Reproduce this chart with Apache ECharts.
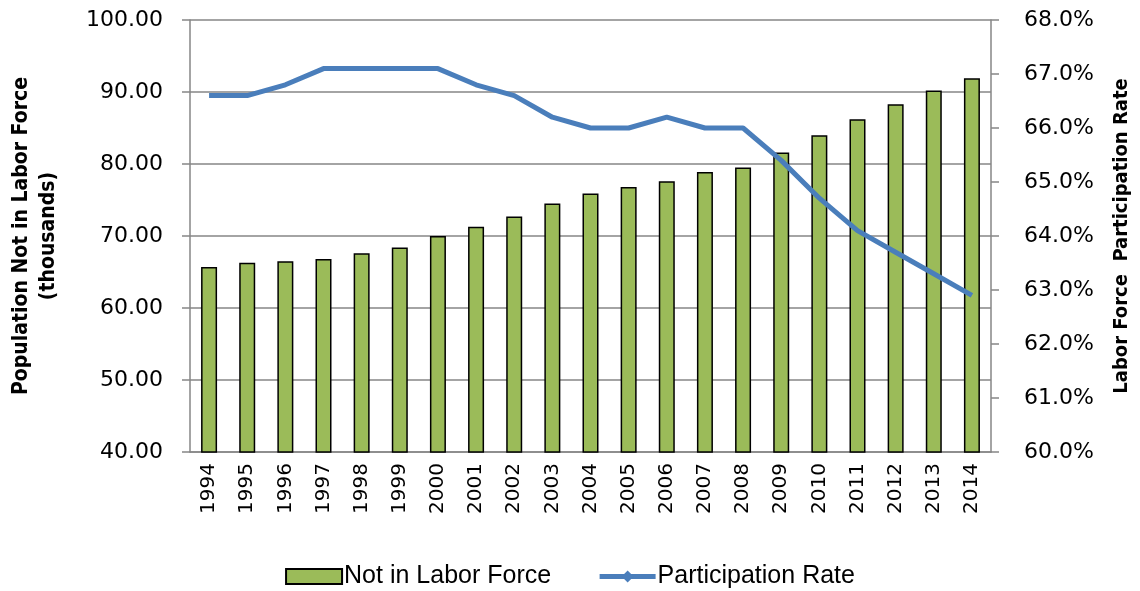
<!DOCTYPE html>
<html>
<head>
<meta charset="utf-8">
<script src="https://cdn.jsdelivr.net/npm/echarts@6/dist/echarts.min.js"></script>
<style>
  html, body { margin: 0; padding: 0; background: #fff; }
  #main { width: 1140px; height: 591px; }
</style>
</head>
<body>
<div id="main"></div>
<script>
// 年份
var years = ['1994','1995','1996','1997','1998','1999','2000','2001','2002','2003','2004',
             '2005','2006','2007','2008','2009','2010','2011','2012','2013','2014'];
// Not in Labor Force
var notInLabor = [65.7, 66.3, 66.5, 66.8, 67.6, 68.4, 70.0, 71.3, 72.7, 74.5, 75.9,
                  76.8, 77.6, 78.9, 79.5, 81.6, 84.0, 86.2, 88.3, 90.2, 91.9];
// Participation Rate (%)
var partRate = [66.6, 66.6, 66.8, 67.1, 67.1, 67.1, 67.1, 66.8, 66.6, 66.2, 66.0,
                66.0, 66.2, 66.0, 66.0, 65.4, 64.7, 64.1, 63.7, 63.3, 62.9];

var gray = '#868686';
var blue = '#4A7EBB';
var titleFont = '"DejaVu Sans Condensed", "Liberation Sans", sans-serif';

var myChart = echarts.init(document.getElementById('main'));
myChart.setOption({
    animation: false,
    grid: {
        left: 187,
        right: 144,
        top: 20,
        bottom: 139
    },
    legend: {
        bottom: -3,
        left: 'center',
        itemWidth: 56,
        itemHeight: 15,
        itemGap: 46,
        textStyle: { fontFamily: 'Liberation Sans', fontSize: 25, color: '#000', padding: [0, 0, 0, -3] },
        data: [
            { name: 'Not in Labor Force', icon: 'rect', itemStyle: { borderColor: '#000', borderWidth: 2 } },
            { name: 'Participation Rate', lineStyle: { width: 5, color: blue }, itemStyle: { color: blue } }
        ]
    },
    xAxis: [
        {
            type: 'category',
            data: years,
            axisLine: { lineStyle: { color: gray, width: 1.5 } },
            axisTick: { alignWithLabel: false, interval: 0, length: 6, lineStyle: { color: gray, width: 1.5 } },
            axisLabel: {
                interval: 0,
                rotate: 90,
                margin: 11,
                fontFamily: 'DejaVu Sans',
                fontSize: 20,
                color: '#000'
            }
        }
    ],
    yAxis: [
        {
            type: 'value',
            min: 40,
            max: 100,
            interval: 10,
            name: 'Population Not in Labor Force\n(thousands)',
            nameLocation: 'middle',
            nameRotate: 90,
            nameGap: 128,
            nameTextStyle: { fontFamily: titleFont, fontWeight: 'bold', fontSize: 21, lineHeight: 27, color: '#000' },
            axisLine: { show: true, lineStyle: { color: gray, width: 1.5 } },
            axisTick: { show: true, length: 8, lineStyle: { color: gray, width: 1.5 } },
            splitLine: { lineStyle: { color: gray, width: 1.5 } },
            axisLabel: {
                margin: 27,
                fontFamily: 'DejaVu Sans',
                fontSize: 22,
                color: '#000',
                formatter: function (v) { return v.toFixed(2); }
            }
        },
        {
            type: 'value',
            min: 60,
            max: 68,
            interval: 1,
            position: 'right',
            name: 'Labor Force  Participation Rate',
            nameLocation: 'middle',
            nameRotate: 90,
            nameGap: 121,
            nameTextStyle: { fontFamily: titleFont, fontWeight: 'bold', fontSize: 20, color: '#000' },
            axisLine: { show: true, lineStyle: { color: gray, width: 1.5 } },
            axisTick: { show: true, length: 8, lineStyle: { color: gray, width: 1.5 } },
            splitLine: { show: false },
            axisLabel: {
                margin: 33,
                fontFamily: 'DejaVu Sans',
                fontSize: 22,
                color: '#000',
                formatter: function (v) { return v.toFixed(1) + '%'; }
            }
        }
    ],
    series: [
        {
            name: 'Not in Labor Force',
            type: 'bar',
            barWidth: 16,
            data: notInLabor,
            itemStyle: { color: '#9BBB59', borderColor: '#000', borderWidth: 1.5 }
        },
        {
            name: 'Participation Rate',
            type: 'line',
            yAxisIndex: 1,
            data: partRate,
            symbol: 'diamond',
            symbolSize: 14,
            showSymbol: false,
            lineStyle: { color: blue, width: 5 },
            itemStyle: { color: blue }
        }
    ]
});
</script>
</body>
</html>
